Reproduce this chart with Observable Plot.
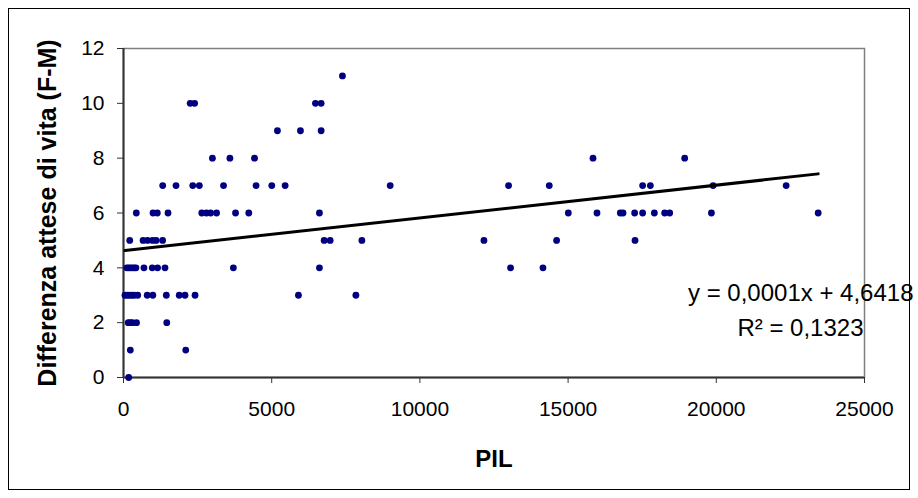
<!DOCTYPE html>
<html><head><meta charset="utf-8">
<script src="https://cdn.jsdelivr.net/npm/d3@7"></script>
<script src="https://cdn.jsdelivr.net/npm/@observablehq/plot@0.6"></script>
<style>
body{margin:0;background:#fff;}
#wrap{position:relative;width:918px;height:498px;overflow:hidden;}
#chart{position:absolute;left:0;top:0;}
#border{position:absolute;left:8px;top:8px;width:902px;height:482px;border:1px solid #000;box-sizing:border-box;pointer-events:none;}
</style></head><body>
<div id="wrap"><div id="chart"></div><div id="border"></div></div>
<script>
// PIL (x) and life-expectancy difference F-M (y)
const pil = [
  175,
  230, 2100,
  160, 230, 300, 440, 1460,
  50, 120, 200, 280, 360, 480, 800, 990, 1445, 1880, 2075, 2414, 5902, 7840,
  110, 170, 230, 300, 360, 420, 690, 970, 1150, 1400, 3707, 6610, 13059, 14152,
  210, 660, 810, 980, 1100, 1320, 6770, 6972, 8042, 12161, 14612, 17258,
  432, 996, 1141, 1502, 2640, 2800, 2940, 3140, 3780, 4227, 6610, 15007, 15975, 16762, 16853, 17245, 17515, 17910, 18258, 18427, 19835, 23437,
  1323, 1772, 2336, 2559, 3375, 4473, 5003, 5453, 8997, 12991, 14365, 17515, 17775, 19892, 22357,
  3000, 3590, 4420, 15840, 18933,
  5193, 5970, 6668,
  2250, 2400, 6476, 6668,
  7387
];
const diff = [
  0,
  1, 1,
  2, 2, 2, 2, 2,
  3, 3, 3, 3, 3, 3, 3, 3, 3, 3, 3, 3, 3, 3,
  4, 4, 4, 4, 4, 4, 4, 4, 4, 4, 4, 4, 4, 4,
  5, 5, 5, 5, 5, 5, 5, 5, 5, 5, 5, 5,
  6, 6, 6, 6, 6, 6, 6, 6, 6, 6, 6, 6, 6, 6, 6, 6, 6, 6, 6, 6, 6, 6,
  7, 7, 7, 7, 7, 7, 7, 7, 7, 7, 7, 7, 7, 7, 7,
  8, 8, 8, 8, 8,
  9, 9, 9,
  10, 10, 10, 10,
  11
];
const xTicks = [0, 5000, 10000, 15000, 20000, 25000];
const yTicks = [0, 2, 4, 6, 8, 10, 12];
const xTitle = "PIL";
const yTitle = "Differenza attese di vita (F-M)";
const eqText = "y = 0,0001x + 4,6418";
const r2Text = "R² = 0,1323";

const data = pil.map((p, i) => ({pil: p, diff: diff[i]}));
const font = "'Liberation Sans', Arial, sans-serif";

const chart = Plot.plot({
  width: 918, height: 498,
  marginLeft: 123, marginRight: 54, marginTop: 48, marginBottom: 121,
  style: {fontFamily: font, fontSize: "21px", background: "transparent", color: "#000"},
  x: {domain: [0, 25000], label: null},
  y: {domain: [0, 12], label: null},
  marks: [
    Plot.frame({stroke: "#808080", strokeWidth: 1.5}),
    Plot.axisX({ticks: xTicks, tickFormat: d => String(d), tickSize: 6, tickPadding: 18, fontSize: 21, label: null, stroke: "#333"}),
    Plot.axisY({ticks: yTicks, tickFormat: d => String(d), tickSize: 6, tickPadding: 13, fontSize: 21, label: null, stroke: "#333"}),
    Plot.ruleY([0], {stroke: "#333", strokeWidth: 2}),
    Plot.ruleX([0], {stroke: "#333", strokeWidth: 2}),
    Plot.dot(data, {x: "pil", y: "diff", r: 3.4, fill: "#000080", stroke: null}),
    Plot.linearRegressionY(data, {x: "pil", y: "diff", ci: 0, stroke: "#000", strokeWidth: 3}),
    Plot.text([eqText], {frameAnchor: "top-right", text: d => d, textAnchor: "end", dx: 49, dy: 235, fontSize: 24}),
    Plot.text([r2Text], {frameAnchor: "top-right", text: d => d, textAnchor: "end", dx: -1, dy: 270, fontSize: 24}),
    Plot.text([xTitle], {frameAnchor: "bottom", text: d => d, dy: 89, fontSize: 24, fontWeight: "bold"}),
    Plot.text([yTitle], {frameAnchor: "left", text: d => d, textAnchor: "middle", dx: -76, rotate: -90, fontSize: 25, fontWeight: "bold"})
  ]
});
document.getElementById("chart").append(chart);
</script>
</body></html>
